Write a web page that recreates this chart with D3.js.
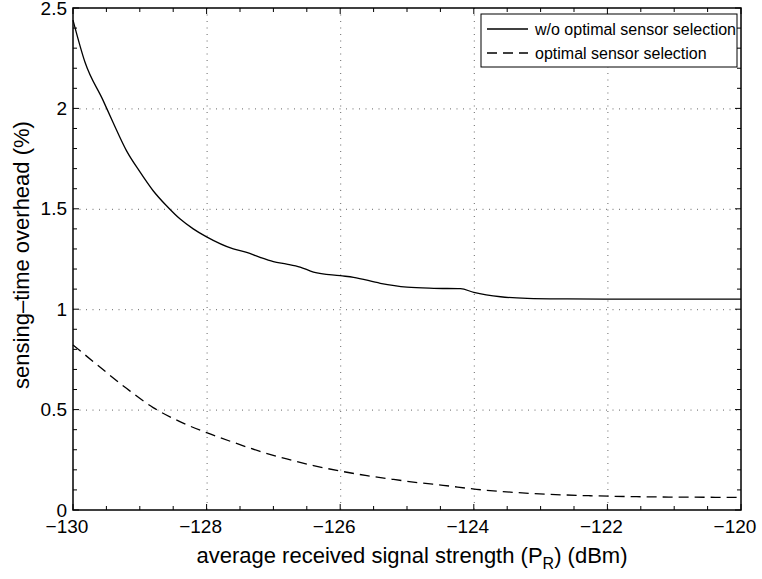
<!DOCTYPE html>
<html>
<head>
<meta charset="utf-8">
<script src="https://cdn.jsdelivr.net/npm/d3@7"></script>
<style>
  body { margin: 0; background: #fff; }
  text { font-family: "Liberation Sans", Arial, sans-serif; fill: #000; }
</style>
</head>
<body>
<div id="chart"></div>
<script>
'use strict';

// w/o optimal sensor selection
const xNoSel = [-130, -129.82, -129.55, -129.4, -129.2, -129.0, -128.8, -128.6, -128.4, -128.2, -128.0,
  -127.6, -127.4, -127.2, -127.0, -126.8, -126.6, -126.4, -126.0, -125.8, -125.4, -125.0, -124.6,
  -124.2, -124.0, -123.6, -123.2, -122.6, -122.0, -121.0, -120.0];
const yNoSel = [2.44, 2.23, 2.04, 1.93, 1.79, 1.685, 1.59, 1.515, 1.45, 1.40, 1.36,
  1.30, 1.283, 1.258, 1.237, 1.225, 1.21, 1.185, 1.167, 1.159, 1.129, 1.11, 1.104,
  1.102, 1.084, 1.062, 1.054, 1.051, 1.05, 1.05, 1.05];

// optimal sensor selection
const xOpt = [-130, -129.7, -129.2, -128.8, -128.4, -128.0, -127.6, -127.2, -126.8, -126.4, -126.0,
  -125.6, -125.2, -124.8, -124.46, -123.96, -123.41, -122.86, -122.26, -121.5, -120.8, -120.0];
const yOpt = [0.822, 0.74, 0.606, 0.51, 0.44, 0.385, 0.337, 0.292, 0.254, 0.221, 0.194,
  0.171, 0.152, 0.135, 0.123, 0.103, 0.088, 0.078, 0.071, 0.066, 0.064, 0.063];

const xTicks = [-130, -128, -126, -124, -122, -120];
const yTicks = [0, 0.5, 1, 1.5, 2, 2.5];
const legendLabels = ["w/o optimal sensor selection", "optimal sensor selection"];

const W = 762, H = 579;
const m = {top: 8, right: 21, bottom: 69, left: 73};
const iw = W - m.left - m.right, ih = H - m.top - m.bottom;

const svg = d3.select("#chart").append("svg").attr("width", W).attr("height", H);
const g = svg.append("g").attr("transform", `translate(${m.left},${m.top})`);

const x = d3.scaleLinear().domain([-130, -120]).range([0, iw]);
const y = d3.scaleLinear().domain([0, 2.5]).range([ih, 0]);

// grid
const grid = g.append("g").attr("class", "grid")
  .attr("stroke", "#666").attr("stroke-width", 1).attr("stroke-dasharray", "1,5.5");
grid.selectAll("line.gx").data(xTicks.slice(1, -1)).join("line")
  .attr("x1", d => x(d) + 0.5).attr("x2", d => x(d) + 0.5).attr("y1", 0).attr("y2", ih);
grid.selectAll("line.gy").data(yTicks.slice(1, -1)).join("line")
  .attr("y1", d => y(d) + 0.5).attr("y2", d => y(d) + 0.5).attr("x1", 0).attr("x2", iw);

// ticks (inward, both sides)
const xMinor = d3.range(-130, -119.99, 0.5);
const yMinor = d3.range(0, 2.501, 0.1);
const tk = g.append("g").attr("stroke", "#000").attr("stroke-width", 1);
function tickLen(v, majors){ return majors.some(t => Math.abs(t - v) < 1e-6) ? 6 : 4; }
xMinor.forEach(v => {
  const l = tickLen(v, xTicks);
  tk.append("line").attr("x1", x(v)).attr("x2", x(v)).attr("y1", ih).attr("y2", ih - l);
  tk.append("line").attr("x1", x(v)).attr("x2", x(v)).attr("y1", 0).attr("y2", l);
});
yMinor.forEach(v => {
  const l = tickLen(v, yTicks);
  tk.append("line").attr("y1", y(v)).attr("y2", y(v)).attr("x1", 0).attr("x2", l);
  tk.append("line").attr("y1", y(v)).attr("y2", y(v)).attr("x1", iw).attr("x2", iw - l);
});

// box
g.append("rect").attr("width", iw).attr("height", ih)
  .attr("fill", "none").attr("stroke", "#000").attr("stroke-width", 1.5);

// tick labels
g.selectAll("text.xl").data(xTicks).join("text").attr("class", "xl")
  .attr("x", d => x(d) - 6).attr("y", ih + 23).attr("text-anchor", "middle")
  .attr("font-size", 19).text(d => "\u2212" + Math.abs(d));
g.selectAll("text.yl").data(yTicks).join("text").attr("class", "yl")
  .attr("x", -6).attr("y", d => y(d)).attr("dy", "0.35em").attr("text-anchor", "end")
  .attr("font-size", 19).text(d => d);

// axis titles
const xt = svg.append("text").attr("x", 412).attr("y", 563).attr("text-anchor", "middle")
  .attr("font-size", 22);
xt.append("tspan").text("average received signal strength (P");
xt.append("tspan").attr("font-size", 16).attr("dy", 6).text("R");
xt.append("tspan").attr("dy", -6).text(") (dBm)");

svg.append("text").attr("transform", "translate(29,255) rotate(-90)")
  .attr("text-anchor", "middle").attr("font-size", 22).text("sensing\u2013time overhead (%)");

// lines
const line = d3.line().x(d => x(d[0])).y(d => y(d[1])).curve(d3.curveMonotoneX);
const series = [
  {pts: d3.zip(xNoSel, yNoSel), dash: null},
  {pts: d3.zip(xOpt, yOpt), dash: "10,6"}
];
g.selectAll("path.series").data(series).join("path").attr("class", "series")
  .attr("d", d => line(d.pts)).attr("fill", "none").attr("stroke", "#000")
  .attr("stroke-width", 1.3).attr("stroke-dasharray", d => d.dash);

// legend
const lg = svg.append("g").attr("transform", "translate(481,14)");
lg.append("rect").attr("width", 256).attr("height", 53)
  .attr("fill", "#fff").attr("stroke", "#000").attr("stroke-width", 1);
legendLabels.forEach((lab, i) => {
  const ly = 15 + i * 24;
  lg.append("line").attr("x1", 6).attr("x2", 47).attr("y1", ly).attr("y2", ly)
    .attr("stroke", "#000").attr("stroke-width", 1.3).attr("stroke-dasharray", series[i].dash);
  lg.append("text").attr("x", 54).attr("y", ly).attr("dy", "0.35em")
    .attr("font-size", 16).text(lab);
});
</script>
</body>
</html>
